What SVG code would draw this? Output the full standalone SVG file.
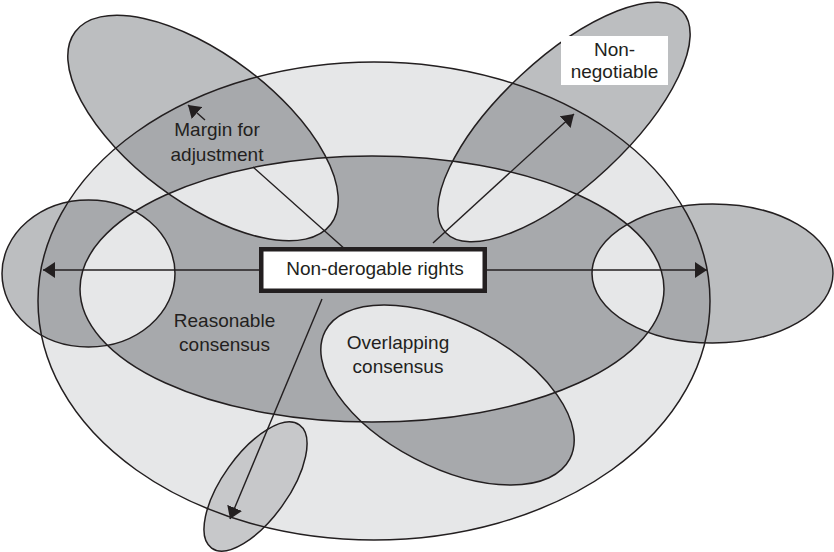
<svg xmlns="http://www.w3.org/2000/svg" xmlns:xlink="http://www.w3.org/1999/xlink" width="834" height="552" viewBox="0 0 834 552">
<defs>
<style>
.ln{fill:none;stroke:#231f20;stroke-width:1.5}
.m{fill:#bcbec0}
.d{fill:#a7a9ac}
.l{fill:#e6e7e8}
.b{fill:#c7c8ca}
.cn{fill:none;stroke:#231f20;stroke-width:1.4}
text{font-family:"Liberation Sans",Arial,sans-serif;font-size:19px;fill:#231f20;text-anchor:middle}
</style>
<ellipse id="eOuter" cx="374" cy="301" rx="336" ry="239"/>
<ellipse id="eInner" cx="372" cy="289" rx="292" ry="133"/>
<ellipse id="eLeft" cx="88.5" cy="273.5" rx="86.5" ry="73.5"/>
<ellipse id="eRight" cx="712.5" cy="273.5" rx="120.5" ry="69.5"/>
<ellipse id="eMargin" cx="0" cy="0" rx="160" ry="73.5" transform="translate(203 128) rotate(37)"/>
<ellipse id="eNonneg" cx="0" cy="0" rx="162" ry="63.5" transform="translate(564 122) rotate(-43)"/>
<ellipse id="eOverlap" cx="0" cy="0" rx="138" ry="71.5" transform="translate(447.5 395) rotate(27.6)"/>
<ellipse id="eBottom" cx="0" cy="0" rx="75.6" ry="33" transform="translate(255.5 486.5) rotate(-54.5)"/>
<clipPath id="cO"><use xlink:href="#eOuter"/></clipPath>
<clipPath id="cI"><use xlink:href="#eInner"/></clipPath>
<marker id="ah" markerUnits="userSpaceOnUse" viewBox="0 0 12 16" markerWidth="12" markerHeight="16" refX="12" refY="8" orient="auto">
<path d="M0,0 L12,8 L0,16 z" fill="#231f20"/>
</marker>
</defs>

<g id="node-outer"><use xlink:href="#eOuter" class="l"/></g>
<g id="node-reasonable"><use xlink:href="#eInner" class="d"/></g>

<g id="node-left">
<use xlink:href="#eLeft" class="m"/>
<g clip-path="url(#cO)"><use xlink:href="#eLeft" class="d"/></g>
<g clip-path="url(#cI)"><use xlink:href="#eLeft" class="l"/></g>
</g>
<g id="node-right">
<use xlink:href="#eRight" class="m"/>
<g clip-path="url(#cO)"><use xlink:href="#eRight" class="d"/></g>
<g clip-path="url(#cI)"><use xlink:href="#eRight" class="l"/></g>
</g>
<g id="node-margin">
<use xlink:href="#eMargin" class="m"/>
<g clip-path="url(#cO)"><use xlink:href="#eMargin" class="d"/></g>
<g clip-path="url(#cI)"><use xlink:href="#eMargin" class="l"/></g>
</g>
<g id="node-nonnegotiable">
<use xlink:href="#eNonneg" class="m"/>
<g clip-path="url(#cO)"><use xlink:href="#eNonneg" class="d"/></g>
<g clip-path="url(#cI)"><use xlink:href="#eNonneg" class="l"/></g>
</g>
<g id="node-overlapping">
<use xlink:href="#eOverlap" class="m"/>
<g clip-path="url(#cO)"><use xlink:href="#eOverlap" class="d"/></g>
<g clip-path="url(#cI)"><use xlink:href="#eOverlap" class="l"/></g>
</g>
<g id="node-bottom"><use xlink:href="#eBottom" class="b"/></g>

<g id="outlines">
<use xlink:href="#eOuter" class="ln"/>
<use xlink:href="#eInner" class="ln"/>
<use xlink:href="#eLeft" class="ln"/>
<use xlink:href="#eRight" class="ln"/>
<use xlink:href="#eMargin" class="ln"/>
<use xlink:href="#eNonneg" class="ln"/>
<use xlink:href="#eOverlap" class="ln"/>
<use xlink:href="#eBottom" class="ln"/>
</g>

<g id="connectors">
<line class="cn" x1="259" y1="270" x2="43" y2="270" marker-end="url(#ah)"/>
<line class="cn" x1="487" y1="270" x2="707" y2="270" marker-end="url(#ah)"/>
<line class="cn" x1="346" y1="250" x2="253" y2="167"/>
<line class="cn" x1="205" y1="120" x2="188" y2="105" marker-end="url(#ah)"/>
<line class="cn" x1="433" y1="243" x2="574" y2="114" marker-end="url(#ah)"/>
<line class="cn" x1="322" y1="299" x2="230" y2="519" marker-end="url(#ah)"/>
</g>

<g id="node-nonderogable">
<rect x="261.25" y="249.25" width="223.5" height="41.5" fill="#ffffff" stroke="#231f20" stroke-width="4.5"/>
<text x="375" y="275">Non-derogable rights</text>
</g>

<g id="labels">
<rect x="561" y="36" width="107" height="49" fill="#ffffff"/>
<text x="614.5" y="56">Non-</text>
<text x="614.5" y="78">negotiable</text>
<text x="217" y="136">Margin for</text>
<text x="217" y="161">adjustment</text>
<text x="224.5" y="327">Reasonable</text>
<text x="224.5" y="351">consensus</text>
<text x="398" y="349">Overlapping</text>
<text x="398" y="373">consensus</text>
</g>
</svg>
